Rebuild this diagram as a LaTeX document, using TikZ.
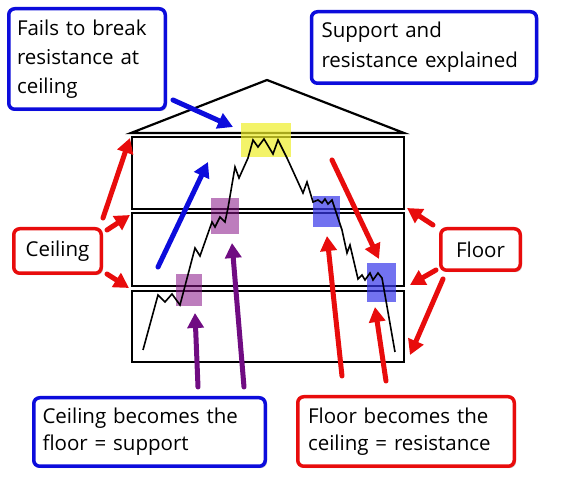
\documentclass[tikz,border=0pt]{standalone}
\usepackage{fontspec}
\setmainfont{Open Sans}
\usetikzlibrary{arrows.meta,shadows}
\definecolor{redC}{RGB}{232,12,12}
\definecolor{blueC}{RGB}{12,12,220}
\definecolor{purC}{RGB}{112,12,130}
\definecolor{hiY}{RGB}{238,238,40}
\definecolor{hiP}{RGB}{135,20,135}
\definecolor{hiB}{RGB}{55,55,235}
\tikzset{
  lbl/.style={rounded corners=6pt, line width=3.5pt, fill=white,
    drop shadow={shadow xshift=1.8pt, shadow yshift=-1.8pt, opacity=0.35},
    font=\fontsize{20.5}{29}\selectfont, inner ysep=0pt},
  bluebox/.style={lbl, draw=blueC},
  redbox/.style={lbl, draw=redC},
  arr/.style={line width=5pt, line cap=round, -{Triangle[length=15pt,width=16pt]}},
  redarr/.style={arr, draw=redC, fill=redC},
  bluearr/.style={arr, draw=blueC, fill=blueC},
  purarr/.style={arr, draw=purC, fill=purC},
  house/.style={draw=black, line width=2.2pt},
  hiyel/.style={fill=hiY, fill opacity=0.7},
  hipur/.style={fill=hiP, fill opacity=0.55},
  hiblu/.style={fill=hiB, fill opacity=0.7},
  price/.style={draw=black, line width=1.6pt}
}
\begin{document}
\begin{tikzpicture}[x=1pt,y=-1pt]
\useasboundingbox (0,0) rectangle (566,478);
\fill[white] (0,0) rectangle (566,478);
% house
\draw[house] (131,133) -- (267,80) -- (404,133) -- cycle;
\draw[house] (132,137) rectangle (404,209);
\draw[house] (132,213) rectangle (404,286);
\draw[house] (132,291) rectangle (404,362);
% highlights
\path[hiyel] (241,123) rectangle (291,157);
\path[hipur] (211,198) rectangle (239,234);
\path[hipur] (176,274) rectangle (202,306);
\path[hiblu] (313,196) rectangle (340,227);
\path[hiblu] (367,263) rectangle (396,302);
% price
\draw[price] (143,350) -- (158,295) -- (165,302) -- (172,294) -- (180,305)
  -- (195,248) -- (200,256) -- (212,222) -- (215,227) -- (220,217) -- (225,222)
  -- (228,208) -- (235,167) -- (239,178) -- (248,158) -- (253,140) -- (258,147)
  -- (264,139) -- (273,154) -- (278,140) -- (287,158) -- (303,193) -- (307,182)
  -- (313,202) -- (318,200) -- (322,203) -- (325,199) -- (328,204) -- (332,200)
  -- (342,230) -- (347,253) -- (350,245) -- (358,279) -- (362,275) -- (365,280)
  -- (370,273) -- (373,280) -- (378,273) -- (382,278) -- (395,352);
% label boxes
\node[bluebox, minimum width=156.5pt, minimum height=100.5pt, text width=140pt,
  inner xsep=8pt, align=left] (fails) at (87,59)
  {Fails to break\\resistance at\\ceiling};
\node[bluebox, minimum width=224.5pt, minimum height=71.5pt, text width=205pt,
  inner xsep=10pt, align=left, font=\fontsize{20.5}{30}\selectfont] (title) at (424,47.5)
  {Support and\\resistance explained};
\node[redbox, minimum width=87.5pt, minimum height=44.5pt, align=center] (ceil) at (57.5,251) {Ceiling};
\node[redbox, minimum width=79.5pt, minimum height=41.5pt, align=center] (floor) at (480.5,249.5) {Floor};
\node[bluebox, minimum width=231.5pt, minimum height=68.5pt, text width=214pt,
  inner xsep=8pt, align=left, font=\fontsize{20.5}{27}\selectfont] (cbf) at (149.5,432)
  {Ceiling becomes the\\floor = support};
\node[redbox, minimum width=216.5pt, minimum height=69.5pt, text width=196pt,
  inner xsep=10pt, align=left, font=\fontsize{20.5}{27}\selectfont] (fbc) at (406,431.5)
  {Floor becomes the\\ceiling = resistance};
% arrow coordinates
\coordinate (f1) at (173,100);  \coordinate (f2) at (233,127);
\coordinate (b1) at (158,267);  \coordinate (b2) at (208,162);
\coordinate (c1a) at (103,218); \coordinate (c1b) at (130,138);
\coordinate (c2a) at (107,230); \coordinate (c2b) at (130,215);
\coordinate (c3a) at (107,274); \coordinate (c3b) at (129,288);
\coordinate (l1a) at (433,225); \coordinate (l1b) at (407,208);
\coordinate (l2a) at (436,270); \coordinate (l2b) at (410,285);
\coordinate (l3a) at (443,279); \coordinate (l3b) at (410,355);
\coordinate (d1) at (332,160);  \coordinate (d2) at (379,259);
\coordinate (p1a) at (198,387); \coordinate (p1b) at (195,313);
\coordinate (p2a) at (244,387); \coordinate (p2b) at (232,243);
\coordinate (r1a) at (342,376); \coordinate (r1b) at (327,236);
\coordinate (r2a) at (386,381); \coordinate (r2b) at (375,307);
% arrows
\draw[bluearr] (f1) -- (f2);
\draw[bluearr] (b1) -- (b2);
\draw[redarr] (c1a) -- (c1b);
\draw[redarr] (c2a) -- (c2b);
\draw[redarr] (c3a) -- (c3b);
\draw[redarr] (l1a) -- (l1b);
\draw[redarr] (l2a) -- (l2b);
\draw[redarr] (l3a) -- (l3b);
\draw[redarr] (d1) -- (d2);
\draw[purarr] (p1a) -- (p1b);
\draw[purarr] (p2a) -- (p2b);
\draw[redarr] (r1a) -- (r1b);
\draw[redarr] (r2a) -- (r2b);
\end{tikzpicture}
\end{document}
